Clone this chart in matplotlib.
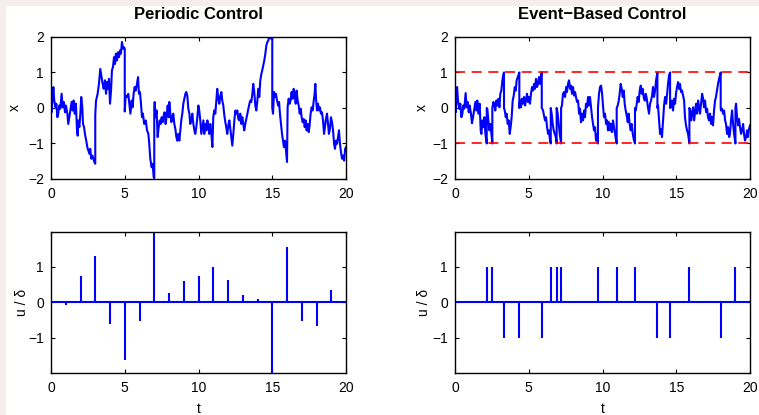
import matplotlib
matplotlib.use('Agg')
import matplotlib.pyplot as plt
from matplotlib.patches import Rectangle

plt.rcParams['font.family'] = ['Liberation Sans', 'DejaVu Sans']
plt.rcParams['font.size'] = 10

# periodic control, state x
t_per = [0.00, 0.04, 0.16, 0.22, 0.31, 0.36, 0.43, 0.49, 0.56, 0.63, 0.72, 0.79, 0.86, 0.95,
         1.01, 1.11, 1.17, 1.24, 1.31, 1.40, 1.47, 1.53, 1.60, 1.69, 1.76, 1.81, 1.85, 1.92, 1.99,
         2.05, 2.12, 2.17, 2.24, 2.30, 2.39, 2.46, 2.53, 2.60, 2.66, 2.73, 2.80, 2.87, 2.94,
         3.00, 3.00, 3.05, 3.16, 3.25, 3.34, 3.43, 3.50, 3.57, 3.66, 3.73, 3.79, 3.86, 3.93,
         4.00, 4.07, 4.13, 4.20, 4.27, 4.34, 4.40, 4.47, 4.54, 4.61, 4.68, 4.74, 4.81, 4.88, 4.95,
         5.00, 5.00, 5.06, 5.15, 5.24, 5.31, 5.38, 5.47, 5.53, 5.60, 5.67, 5.74, 5.83, 5.90, 5.96,
         6.03, 6.10, 6.17, 6.23, 6.32, 6.42, 6.51, 6.60, 6.66, 6.73, 6.82, 6.89, 6.96,
         7.00, 7.00, 7.03, 7.09, 7.16, 7.23, 7.30, 7.37, 7.43, 7.50, 7.57, 7.64, 7.70, 7.77, 7.84, 7.91, 7.98,
         8.02, 8.09, 8.16, 8.22, 8.29, 8.36, 8.43, 8.50, 8.56, 8.63, 8.70, 8.77, 8.83, 8.90, 8.97,
         9.04, 9.11, 9.17, 9.24, 9.31, 9.38, 9.44, 9.51, 9.58, 9.65, 9.72, 9.78, 9.85, 9.92, 9.99,
         10.05, 10.12, 10.19, 10.26, 10.33, 10.39, 10.46, 10.53, 10.60, 10.67, 10.73, 10.80, 10.87, 10.94,
         11.00, 11.07, 11.14, 11.21, 11.27, 11.34, 11.41, 11.48, 11.55, 11.61, 11.68, 11.75, 11.82, 11.88, 11.95,
         12.02, 12.09, 12.16, 12.22, 12.29, 12.36, 12.43, 12.50, 12.56, 12.63, 12.70, 12.77, 12.83, 12.90, 12.97,
         13.04, 13.10, 13.17, 13.24, 13.31, 13.38, 13.45, 13.51, 13.58, 13.65, 13.71, 13.78, 13.85, 13.92, 13.99,
         14.05, 14.12, 14.19, 14.26, 14.32, 14.39, 14.46, 14.53, 14.60, 14.67, 14.73, 14.80, 14.87, 14.94,
         15.00, 15.00, 15.05, 15.12, 15.19, 15.25, 15.32, 15.40, 15.46, 15.52, 15.59, 15.66, 15.73, 15.79, 15.86, 15.93,
         16.00, 16.04, 16.11, 16.18, 16.24, 16.31, 16.38, 16.45, 16.52, 16.59, 16.65, 16.72, 16.79, 16.86, 16.93, 16.99,
         17.06, 17.13, 17.20, 17.26, 17.33, 17.40, 17.47, 17.53, 17.60, 17.67, 17.74, 17.81, 17.87, 17.92, 17.96,
         18.03, 18.10, 18.17, 18.23, 18.30, 18.37, 18.44, 18.51, 18.57, 18.64, 18.71, 18.78, 18.84, 18.91, 18.98,
         19.05, 19.12, 19.19, 19.25, 19.32, 19.39, 19.46, 19.52, 19.59, 19.66, 19.73, 19.80, 19.87, 19.94, 20.00]
x_per = [0.07, -0.12, 0.59, 0.21, 0.02, 0.12, -0.26, -0.16, 0.07, -0.02, 0.40, 0.02, 0.17, -0.12,
         0.07, -0.16, -0.45, -0.26, -0.07, 0.17, -0.07, 0.21, -0.16, 0.12, -0.63, -0.78, -0.35, -0.54, -0.16,
         0.31, 0.02, -0.45, -0.54, -0.73, -0.92, -1.10, -1.20, -1.29, -1.15, -1.43, -1.34, -1.43, -1.52,
         -1.57, -0.20, 0.20, 0.40, 0.68, 1.10, 0.87, 0.68, 0.54, 0.78, 0.40, 0.73, 0.54, 0.82,
         0.12, 0.49, 1.06, 1.15, 1.43, 1.24, 1.53, 1.34, 1.57, 1.43, 1.62, 1.53, 1.86, 1.67, 1.71,
         1.67, -0.10, 0.35, 0.31, 0.40, 0.12, -0.16, 0.21, 0.02, 0.40, 0.59, 0.49, 0.68, 0.87, 0.40,
         0.45, 0.12, -0.26, -0.16, -0.45, -0.35, -0.63, -0.73, -1.01, -1.43, -1.67, -1.57, -1.95,
         -1.98, 0.00, 0.17, -0.26, -0.07, -0.82, -0.54, -0.35, -0.45, -0.26, -0.40, -0.21, -0.12, -0.45, -0.21, 0.07, -0.26,
         0.17, -0.16, -0.40, -0.26, -0.16, -0.45, -0.59, -0.82, -0.92, -0.73, -0.92, -0.63, -0.35, -0.16, 0.12,
         0.26, 0.40, 0.45, 0.35, -0.02, -0.16, -0.45, -0.35, -0.16, -0.45, -0.63, -0.73, -0.54, -0.26, 0.07,
         -0.07, -0.35, -0.73, -0.54, -0.35, -0.73, -0.45, -0.63, -0.35, -0.54, -0.73, -0.45, -0.73, -1.10,
         -0.26, -0.07, -0.16, 0.21, 0.54, 0.26, 0.12, 0.35, 0.45, 0.21, 0.07, -0.21, -0.40, -0.54, -0.73,
         -0.49, -0.35, -0.59, -0.82, -1.06, -0.73, -0.35, -0.07, -0.16, -0.07, -0.31, -0.35, -0.16, -0.45, -0.26,
         -0.45, -0.63, -0.45, -0.31, -0.16, -0.02, 0.12, 0.21, 0.17, 0.40, 0.68, 0.45, 0.07, -0.07, 0.21,
         0.54, 0.31, 0.78, 0.96, 1.06, 1.20, 1.34, 1.53, 1.76, 1.86, 1.90, 2.00, 1.98, 1.95,
         2.00, 0.00, -0.16, 0.45, 0.31, 0.40, 0.21, 0.07, 0.17, -0.16, -0.45, -0.73, -0.92, -1.10, -0.92, -1.20,
         -1.52, 0.02, 0.26, 0.12, 0.21, 0.45, 0.26, 0.54, 0.35, 0.12, 0.49, 0.21, 0.07, -0.16, -0.02, -0.26,
         -0.40, -0.31, -0.54, -0.35, -0.63, -0.45, -0.68, -0.49, -0.16, 0.02, -0.07, 0.21, 0.40, 0.68, 0.31,
         -0.07, 0.12, -0.07, 0.02, -0.16, -0.12, -0.35, -0.73, -0.54, -0.31, -0.16, -0.45, -0.73, -0.59, -0.26,
         -0.40, -0.63, -1.01, -1.15, -0.92, -1.01, -0.82, -0.63, -1.01, -1.25, -1.43, -1.34, -1.48, -1.15, -1.10]

# periodic control input, one sample per second
t_u_per = list(range(1, 20))
u_per = [-0.07, 0.73, 1.30, -0.61, -1.63, -0.52, 2.00, 0.27, 0.60, 0.74,
         1.00, 0.61, 0.21, 0.08, -2.00, 1.55, -0.54, -0.68, 0.34]

# event-based control, state x
t_evt = [0.00, 0.05, 0.14, 0.20, 0.29, 0.36, 0.43, 0.50, 0.56, 0.63, 0.72, 0.79, 0.86, 0.93, 0.99,
         1.08, 1.15, 1.22, 1.29, 1.38, 1.45, 1.51, 1.58, 1.67, 1.74, 1.79, 1.85, 1.92, 1.99, 2.06,
         2.15, 2.15, 2.19, 2.26, 2.33, 2.40, 2.53, 2.53, 2.60, 2.67, 2.73, 2.80, 2.87, 2.94, 3.01, 3.07,
         3.14, 3.21, 3.28, 3.32, 3.32, 3.37, 3.44, 3.50, 3.57, 3.64, 3.71, 3.77, 3.84, 3.91, 3.98, 4.05,
         4.11, 4.18, 4.25, 4.32, 4.36, 4.36, 4.41, 4.47, 4.54, 4.61, 4.68, 4.75, 4.81, 4.88, 4.95,
         5.02, 5.08, 5.15, 5.22, 5.29, 5.36, 5.42, 5.49, 5.56, 5.63, 5.69, 5.76, 5.83, 5.88, 5.88,
         5.97, 6.03, 6.10, 6.17, 6.24, 6.31, 6.37, 6.44, 6.49, 6.49, 6.55, 6.62, 6.69, 6.76, 6.83,
         6.89, 6.89, 6.96, 7.03, 7.10, 7.16, 7.19, 7.19, 7.25, 7.32, 7.39, 7.46, 7.53, 7.59, 7.66,
         7.73, 7.80, 7.86, 7.93, 8.00, 8.07, 8.14, 8.20, 8.27, 8.34, 8.41, 8.47, 8.54, 8.61, 8.68,
         8.75, 8.81, 8.88, 8.95, 9.02, 9.08, 9.15, 9.22, 9.29, 9.36, 9.42, 9.49, 9.56, 9.63,
         9.69, 9.69, 9.76, 9.83, 9.90, 9.97, 10.03, 10.10, 10.17, 10.24, 10.31, 10.37, 10.44, 10.51,
         10.58, 10.64, 10.71, 10.78, 10.85, 10.92, 10.96, 10.96, 11.03, 11.10, 11.16, 11.23, 11.30,
         11.37, 11.44, 11.50, 11.57, 11.64, 11.71, 11.77, 11.84, 11.91, 11.98, 12.05, 12.11,
         12.20, 12.20, 12.25, 12.32, 12.38, 12.45, 12.52, 12.59, 12.66, 12.72, 12.79, 12.86, 12.93,
         13.00, 13.06, 13.15, 13.22, 13.29, 13.36, 13.42, 13.49, 13.56, 13.63, 13.72, 13.72,
         13.76, 13.83, 13.90, 13.97, 14.03, 14.10, 14.17, 14.24, 14.31, 14.38, 14.44, 14.51,
         14.58, 14.58, 14.64, 14.71, 14.78, 14.85, 14.92, 14.98, 15.05, 15.12, 15.19, 15.25, 15.32,
         15.39, 15.46, 15.53, 15.59, 15.66, 15.73, 15.80, 15.89, 15.89, 15.94, 16.01, 16.07, 16.14,
         16.21, 16.29, 16.34, 16.41, 16.48, 16.54, 16.61, 16.68, 16.75, 16.82, 16.88, 16.95, 17.02,
         17.09, 17.15, 17.22, 17.29, 17.36, 17.42, 17.49, 17.56, 17.63, 17.69, 17.76, 17.83, 17.90,
         18.01, 18.01, 18.03, 18.10, 18.17, 18.24, 18.31, 18.37, 18.44, 18.51, 18.58, 18.64, 18.71,
         18.78, 18.85, 18.92, 19.01, 19.01, 19.05, 19.12, 19.19, 19.25, 19.32, 19.39, 19.46, 19.53,
         19.59, 19.66, 19.73, 19.80, 19.86, 19.93, 20.00]
x_evt = [0.07, -0.12, 0.59, 0.21, -0.02, 0.12, -0.26, -0.16, 0.07, -0.02, 0.42, 0.02, 0.17, -0.12, 0.07,
         -0.16, -0.43, -0.26, -0.07, 0.17, -0.07, 0.21, -0.16, 0.12, -0.63, -0.73, -0.35, -0.54, -0.26, -0.73,
         -1.00, 0.00, -0.02, -0.35, -0.63, -0.45, -1.00, 0.00, 0.17, 0.07, -0.07, 0.21, 0.07, 0.26, 0.02, 0.40,
         0.49, 0.78, 0.95, 1.00, 0.00, -0.07, -0.26, -0.16, -0.45, -0.35, -0.73, -0.54, -0.26, 0.21, 0.35, 0.59,
         0.49, 0.78, 0.87, 0.95, 1.00, 0.00, 0.21, 0.02, 0.26, 0.12, 0.31, 0.07, 0.21, 0.40, 0.17,
         0.31, 0.12, 0.40, 0.59, 0.49, 0.68, 0.54, 0.82, 0.59, 0.68, 0.87, 0.68, 0.92, 1.00, 0.00,
         -0.07, -0.21, -0.35, -0.26, -0.54, -0.73, -0.63, -0.92, -1.00, 0.00, -0.16, -0.45, -0.63, -0.73, -0.82,
         -1.00, 0.00, -0.16, -0.45, -0.73, -0.92, -1.00, 0.00, 0.07, 0.40, 0.45, 0.31, 0.59, 0.45, 0.68,
         0.78, 0.54, 0.63, 0.40, 0.59, 0.35, 0.45, 0.31, 0.17, 0.21, -0.16, -0.02, -0.40, -0.16, -0.35,
         -0.07, -0.26, 0.12, 0.02, 0.31, 0.07, 0.31, 0.02, -0.26, -0.45, -0.63, -0.54, -0.92, -0.73,
         -1.00, 0.00, 0.40, 0.59, 0.63, 0.40, 0.07, -0.26, -0.16, -0.45, -0.35, -0.63, -0.40, -0.63,
         -0.45, -0.68, -0.35, -0.54, -0.73, -0.92, -1.00, 0.00, 0.07, 0.21, 0.40, 0.68, 0.54,
         0.31, 0.49, 0.12, -0.07, -0.21, -0.40, -0.16, -0.45, -0.63, -0.45, -0.73, -0.87,
         -1.00, 0.00, -0.07, 0.12, 0.31, 0.17, 0.49, 0.63, 0.40, 0.54, 0.31, 0.21, 0.40,
         0.26, 0.07, -0.16, 0.12, 0.21, 0.35, 0.59, 0.31, 0.49, 0.78, 1.00, 0.00,
         0.07, -0.35, -0.73, -0.59, -0.82, -0.35, 0.07, 0.31, 0.12, 0.40, 0.68, 0.92,
         1.00, 0.00, 0.02, 0.21, -0.07, 0.26, 0.12, 0.40, 0.59, 0.73, 0.54, 0.68, 0.45,
         0.49, 0.35, 0.21, -0.26, -0.49, -0.63, -0.73, -1.00, 0.00, -0.07, -0.35, -0.16, 0.02,
         -0.35, -0.07, 0.12, -0.16, 0.21, 0.02, -0.16, 0.12, 0.40, 0.26, 0.02, 0.21, -0.12,
         -0.02, -0.26, -0.35, -0.16, -0.45, -0.26, -0.49, -0.07, 0.21, 0.31, 0.49, 0.68, 0.82,
         1.00, 0.00, -0.07, -0.02, -0.16, -0.07, -0.35, -0.45, -0.73, -0.54, -0.82, -0.73, -0.35,
         -0.07, -0.45, -0.73, -1.00, 0.00, 0.12, -0.26, -0.49, -0.31, -0.54, -0.73, -0.63, -0.45,
         -0.73, -0.92, -0.82, -0.63, -0.82, -0.59, -0.49]

# event-based control input
t_u_evt = [2.15, 2.53, 3.32, 4.36, 5.88, 6.49, 6.89, 7.19, 9.69, 10.96, 12.20, 13.72, 14.58, 15.89, 18.01, 19.01]
u_evt = [1, 1, -1, -1, -1, 1, 1, 1, 1, 1, 1, -1, -1, 1, -1, 1]

delta = 1.0

fig = plt.figure(figsize=(7.59, 4.15), dpi=100, facecolor='#f6eeee')
fig.patches.append(Rectangle((6 / 759, 0), 1, 1 - 6 / 415, transform=fig.transFigure,
                             facecolor='white', edgecolor='none', zorder=-10))

ax1 = fig.add_axes([0.0672, 0.5687, 0.3887, 0.3422])
ax2 = fig.add_axes([0.5995, 0.5687, 0.3887, 0.3422])
ax3 = fig.add_axes([0.0672, 0.1019, 0.3887, 0.3398])
ax4 = fig.add_axes([0.5995, 0.1019, 0.3887, 0.3398])

blue = '#0000ff'
ax1.plot(t_per, x_per, color=blue, lw=1.5)
ax2.plot(t_evt, x_evt, color=blue, lw=1.5)
ax2.plot([0, 20], [delta, delta], color='#ff0000', lw=1.2, dashes=(6, 4))
ax2.plot([0, 20], [-delta, -delta], color='#ff0000', lw=1.2, dashes=(6, 4))

for ax, tu, u in [(ax3, t_u_per, u_per), (ax4, t_u_evt, u_evt)]:
    ax.vlines(tu, 0, u, color=blue, lw=1.5)
    ax.plot([0, 20], [0, 0], color=blue, lw=1.5)

ax1.set_title('Periodic Control', fontweight='bold', pad=13)
ax2.set_title('Event\u2212Based Control', fontweight='bold', pad=13)

for ax in [ax1, ax2]:
    ax.set_ylim(-2, 2)
    ax.set_yticks([-2, -1, 0, 1, 2])
    ax.set_ylabel('x')
for ax in [ax3, ax4]:
    ax.set_ylim(-1.98, 1.98)
    ax.set_yticks([-1, 0, 1])
    ax.set_ylabel('u / \u03b4')
    ax.set_xlabel('t', labelpad=5)

for ax in [ax1, ax2, ax3, ax4]:
    ax.set_xlim(0, 20)
    ax.set_xticks([0, 5, 10, 15, 20])
    ax.tick_params(axis='x', pad=6)
    ax.tick_params(direction='in', top=True, right=True, length=3, width=0.8, labelsize=10)
    ax.tick_params(axis='y', pad=5)
    for s in ax.spines.values():
        s.set_linewidth(1.0)

ax1.yaxis.set_label_coords(-0.10, 0.5)
ax2.yaxis.set_label_coords(-0.089, 0.5)
ax3.yaxis.set_label_coords(-0.076, 0.5)
ax4.yaxis.set_label_coords(-0.081, 0.5)

fig.savefig('out.png', dpi=100, facecolor=fig.get_facecolor())
